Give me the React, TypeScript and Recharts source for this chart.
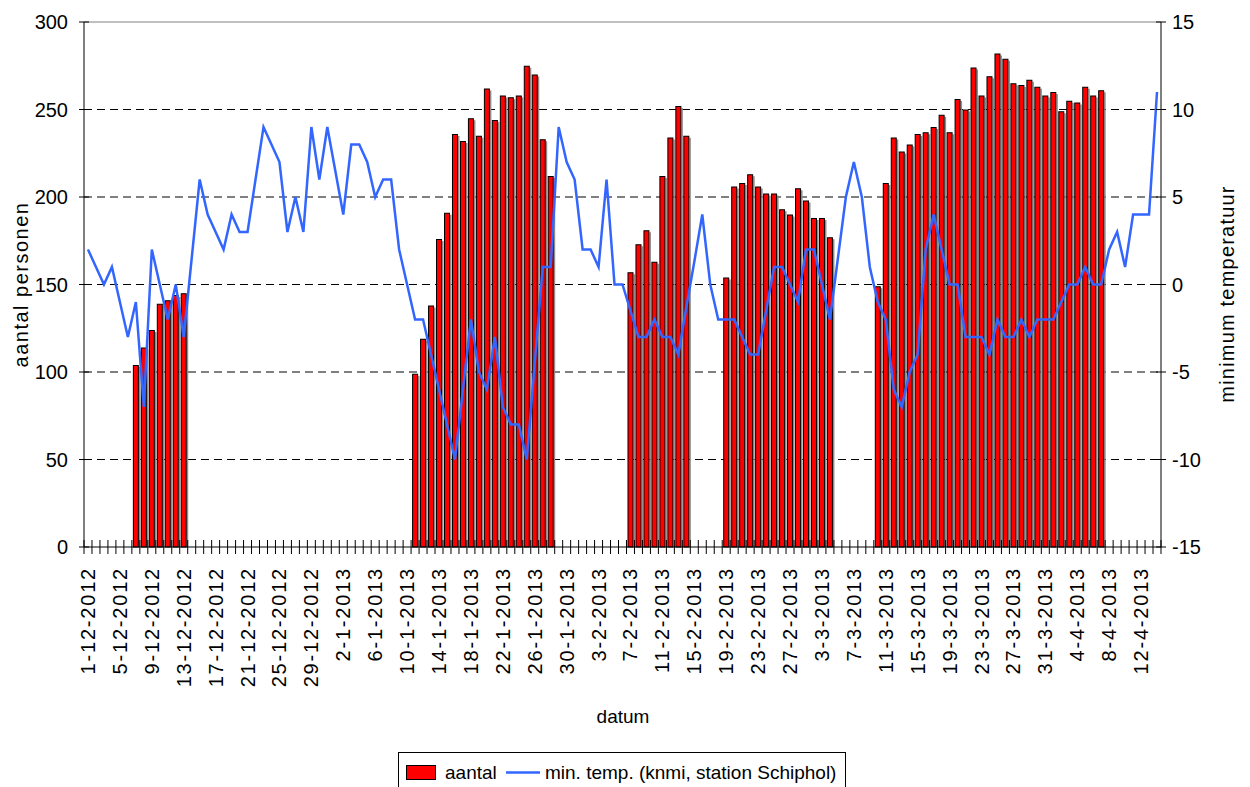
import React from "react";
import {
  Bar,
  CartesianGrid,
  ComposedChart,
  Label,
  Legend,
  Line,
  ReferenceLine,
  XAxis,
  YAxis,
} from "recharts";

// eerste dag van de reeks en aantal dagen (1-12-2012 t/m 14-4-2013)
const startDate = Date.UTC(2012, 11, 1);
const dayCount = 135;

// aantal personen, per aaneengesloten blok met de startdatum
const decBars = [104, 114, 124, 139, 141, 144, 145];
const janBars = [99, 119, 138, 176, 191, 236, 232, 245, 235, 262, 244, 258, 257, 258, 275, 270, 233, 212];
const febBars = [157, 173, 181, 163, 212, 234, 252, 235];
const febMarBars = [154, 206, 208, 213, 206, 202, 202, 193, 190, 205, 198, 188, 188, 177];
const marAprBars = [
  149, 208, 234, 226, 230, 236, 237, 240, 247, 237, 256, 250, 274, 258, 269,
  282, 279, 265, 264, 267, 263, 258, 260, 249, 255, 254, 263, 258, 261,
];

const barBlocks = [
  { start: "7-12-2012", values: decBars },
  { start: "11-1-2013", values: janBars },
  { start: "7-2-2013", values: febBars },
  { start: "19-2-2013", values: febMarBars },
  { start: "10-3-2013", values: marAprBars },
];

// min. temperatuur Schiphol per dag
const tempDec = [2, 1, 0, 1, -1, -3, -1, -7, 2, 0, -2, 0, -3, 1.5, 6, 4, 3, 2, 4, 3, 3, 6, 9, 8, 7, 3, 5, 3, 9, 6, 9];
const tempJan = [6.5, 4, 8, 8, 7, 5, 6, 6, 2, 0, -2, -2, -4, -6, -8, -10, -6, -2, -5, -6, -3, -7, -8, -8, -10, -4.5, 1, 1, 9, 7, 6];
const tempFeb = [2, 2, 1, 6, 0, 0, -1.5, -3, -3, -2, -3, -3, -4, -1.3, 1.3, 4, 0, -2, -2, -2, -3, -4, -4, -1.5, 1, 1, 0, -1];
const tempMar = [2, 2, 0, -2, 1.5, 5, 7, 5, 1, -1, -2, -6, -7, -5, -4, 2, 4, 2, 0, 0, -3, -3, -3, -4, -2, -3, -3, -2, -3, -2, -2];
const tempApr = [-2, -1, 0, 0, 1, 0, 0, 2, 3, 1, 4, 4, 4, 11];
const minTemp = [...tempDec, ...tempJan, ...tempFeb, ...tempMar, ...tempApr];

const leftTicks = [0, 50, 100, 150, 200, 250, 300];
const rightTicks = [-15, -10, -5, 0, 5, 10, 15];
const gridValues = [50, 100, 150, 200, 250];

const dates: string[] = [];
for (let i = 0; i < dayCount; i++) {
  const d = new Date(startDate + i * 86400000);
  dates.push(`${d.getUTCDate()}-${d.getUTCMonth() + 1}-${d.getUTCFullYear()}`);
}

const aantal: (number | null)[] = dates.map(() => null);
barBlocks.forEach((b) => {
  const s = dates.indexOf(b.start);
  b.values.forEach((v, k) => {
    aantal[s + k] = v;
  });
});

const data = dates.map((datum, i) => ({ datum, aantal: aantal[i], temp: minTemp[i] }));

const FONT = "'Liberation Sans', Arial, sans-serif";
const W = 1234;
const H = 780;
const LEFT_W = 76;
const RIGHT_W = 81;
const BAND = (W - LEFT_W - RIGHT_W) / dayCount;

function XTick(props: any) {
  const { x, y, index, payload } = props;
  const h = BAND / 2;
  return (
    <g>
      <line x1={x - h} x2={x - h} y1={y - 7} y2={y + 7} stroke="#000" />
      {index === dayCount - 1 && <line x1={x + h} x2={x + h} y1={y - 7} y2={y + 7} stroke="#000" />}
      {index % 4 === 0 && (
        <text
          transform={`translate(${x + 7},${y + 20}) rotate(-90)`}
          textAnchor="end"
          fontSize={20}
          letterSpacing={1.8}
          fill="#000"
        >
          {payload.value}
        </text>
      )}
    </g>
  );
}

function LeftTick(props: any) {
  const { x, y, payload } = props;
  return (
    <g>
      <line x1={x - 5} x2={x + 5} y1={y} y2={y} stroke="#000" />
      <text x={x - 16} y={y} dy="0.36em" textAnchor="end" fontSize={20} fill="#000">
        {payload.value}
      </text>
    </g>
  );
}

function RightTick(props: any) {
  const { x, y, payload } = props;
  return (
    <g>
      <line x1={x - 5} x2={x + 5} y1={y} y2={y} stroke="#000" />
      <text x={x + 11} y={y} dy="0.36em" textAnchor="start" fontSize={20} fill="#000">
        {payload.value}
      </text>
    </g>
  );
}

function ShadowBar(props: any) {
  const { x, y, width, height } = props;
  if (!height || height <= 0) return null;
  return (
    <g>
      <rect x={x + width} y={y + 2} width={1.5} height={height - 2} fill="#8c8c8c" />
      <rect x={x + 0.5} y={y + 0.5} width={width - 1} height={height - 0.5} fill="#FF0000" stroke="#000" />
    </g>
  );
}

function LegendBox() {
  return (
    <svg width={448} height={40} style={{ display: "block", fontFamily: FONT }}>
      <rect x={0.5} y={0.5} width={447} height={44} fill="#fff" stroke="#000" />
      <rect x={8.5} y={13.5} width={29} height={14} fill="#FF0000" stroke="#000" />
      <text x={47} y={27} fontSize={19} fill="#000">aantal</text>
      <line x1={108} x2={142} y1={20.5} y2={20.5} stroke="#3366FF" strokeWidth={2.5} />
      <text x={147} y={27} fontSize={19} fill="#000">min. temp. (knmi, station Schiphol)</text>
    </svg>
  );
}

export default function App() {
  return (
    <div style={{ width: W, height: H, fontFamily: FONT }}>
      <ComposedChart width={W} height={H} data={data} margin={{ top: 14, right: 0, bottom: 0, left: 0 }}>
        <CartesianGrid
          yAxisId="left"
          vertical={false}
          horizontalValues={gridValues}
          stroke="#000"
          strokeDasharray="8 5"
        />
        <ReferenceLine yAxisId="left" y={300} stroke="#808080" />
        <XAxis
          dataKey="datum"
          interval={0}
          height={241}
          tickLine={false}
          tickSize={0}
          tickMargin={0}
          axisLine={{ stroke: "#000" }}
          tick={XTick}
        >
          <Label
            content={() => (
              <text x={615} y={715} textAnchor="middle" fontSize={19} fill="#000">
                datum
              </text>
            )}
          />
        </XAxis>
        <YAxis
          yAxisId="left"
          domain={[0, 300]}
          ticks={leftTicks}
          interval={0}
          width={LEFT_W}
          tickLine={false}
          tickSize={0}
          tickMargin={0}
          axisLine={{ stroke: "#000" }}
          tick={LeftTick}
        >
          <Label
            content={() => (
              <text
                transform="translate(20,276.5) rotate(-90)"
                textAnchor="middle"
                fontSize={20}
                letterSpacing={1.5}
                fill="#000"
              >
                aantal personen
              </text>
            )}
          />
        </YAxis>
        <YAxis
          yAxisId="right"
          orientation="right"
          domain={[-15, 15]}
          ticks={rightTicks}
          interval={0}
          width={RIGHT_W}
          tickLine={false}
          tickSize={0}
          tickMargin={0}
          axisLine={{ stroke: "#000" }}
          tick={RightTick}
        >
          <Label
            content={() => (
              <text
                transform="translate(1226,286) rotate(-90)"
                textAnchor="middle"
                fontSize={20}
                letterSpacing={1.2}
                fill="#000"
              >
                minimum temperatuur
              </text>
            )}
          />
        </YAxis>
        <Legend
          verticalAlign="middle"
          layout="horizontal"
          wrapperStyle={{ left: 390, top: 744, width: 448, height: 40 }}
          content={() => <LegendBox />}
        />
        <Bar
          yAxisId="left"
          dataKey="aantal"
          name="aantal"
          barSize={6}
          fill="#FF0000"
          shape={ShadowBar}
          isAnimationActive={false}
        />
        <Line
          yAxisId="right"
          dataKey="temp"
          name="min. temp. (knmi, station Schiphol)"
          type="linear"
          stroke="#3366FF"
          strokeWidth={2.5}
          dot={false}
          activeDot={false}
          isAnimationActive={false}
        />
      </ComposedChart>
    </div>
  );
}
